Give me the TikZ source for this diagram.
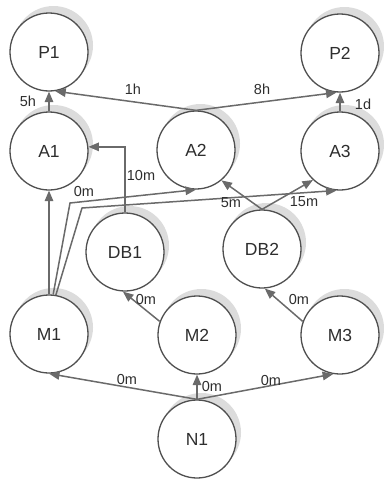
\documentclass[tikz,border=0pt]{standalone}
\usepackage{fontspec}
\setmainfont{Liberation Sans}
\usetikzlibrary{arrows.meta,calc}
\definecolor{edgegray}{HTML}{6A6A6A}
\definecolor{ringgray}{HTML}{505050}
\definecolor{shadowgray}{HTML}{DCDCDC}
\definecolor{textgray}{HTML}{2E2E2E}
\begin{document}
\begin{tikzpicture}[x=1pt,y=-1pt,
  state/.style={circle,draw=ringgray,line width=1.3pt,fill=white,minimum size=78pt,inner sep=0pt,font=\fontsize{17.5}{17.5}\selectfont,text=textgray},
  shade/.style={fill=shadowgray},
  conn/.style={draw=edgegray,line width=1.5pt,-{Triangle[length=10.5pt,width=8.5pt]}},
  lbl/.style={font=\fontsize{14.5}{14.5}\selectfont,text=textgray,inner sep=0pt},
]
\useasboundingbox (0,0) rectangle (383,479);
% shadows
\foreach \x/\y in {49/52,340/53,49/151,196/150,340/151,125/252,262/249,49/334,197/335,340/335,197/439}
  \fill[shade] (\x+4.5,\y-6.5) circle (39.5);
% nodes
\node[state] (P1) at (49,52) {P1};
\node[state] (P2) at (340,53) {P2};
\node[state] (A1) at (49,151) {A1};
\node[state] (A2) at (196,150) {A2};
\node[state] (A3) at (340,151) {A3};
\node[state] (DB1) at (125,252) {DB1};
\node[state] (DB2) at (262,249) {DB2};
\node[state] (M1) at (49,334) {M1};
\node[state] (M2) at (197,335) {M2};
\node[state] (M3) at (340,335) {M3};
\node[state] (N1) at (197,439) {N1};
\coordinate (b1) at (70,203);
\coordinate (b2) at (82,208);
% edges
\draw[conn] (A1.north) -- (P1.south);
\draw[conn] (A2.north) -- (P1.-81);
\draw[conn] (A2.north) -- (P2.-95);
\draw[conn] (A3.north) -- (P2.south);
\draw[conn] (DB1.north) |- (A1.6);
\draw[conn] (M1.north) -- (A1.south);
\draw[conn] (M1.84) -- (b1) -- (A2.south);
\draw[conn] (M1.80) -- (b2) -- (A3.265);
\draw[conn] (DB2.north) -- (A2.310);
\draw[conn] (DB2.north) -- (A3.227);
\draw[conn] (M2.160) -- (DB1.-93);
\draw[conn] (M3.160) -- (DB2.-86);
\draw[conn] (N1.north) -- (M1.south);
\draw[conn] (N1.north) -- (M2.south);
\draw[conn] (N1.north) -- (M3.-100);
% labels
\node[lbl] (l5h) at (28,101) {5h};
\node[lbl] (l1h) at (133,89) {1h};
\node[lbl] (l8h) at (262,89) {8h};
\node[lbl] (l1d) at (363,104) {1d};
\node[lbl] (l10m) at (141,176) {10m};
\node[lbl] (l0a) at (84,192) {0m};
\node[lbl] (l5m) at (231,203) {5m};
\node[lbl] (l15m) at (304,202) {15m};
\node[lbl] (l0b) at (146,300) {0m};
\node[lbl] (l0c) at (299,300) {0m};
\node[lbl] (l0d) at (127,380) {0m};
\node[lbl] (l0e) at (212,387) {0m};
\node[lbl] (l0f) at (271,381) {0m};
\end{tikzpicture}
\end{document}
